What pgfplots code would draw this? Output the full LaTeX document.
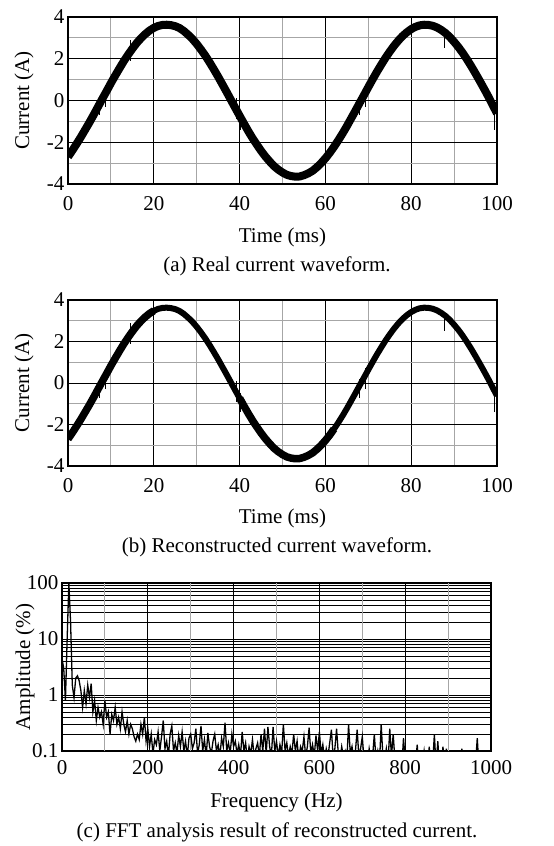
\documentclass[border=0pt]{standalone}
\usepackage{pgfplots}
\pgfplotsset{compat=1.18}
\usepackage{fontspec}
\setmainfont{Liberation Serif}
\newcommand\myf{\fontsize{21}{25}\selectfont}

\pgfplotstableread{
t i
0 -2.70
1 -2.40
2 -2.08
3 -1.75
4 -1.40
5 -1.05
6 -0.68
7 -0.30
8 0.08
9 0.45
10 0.83
11 1.19
12 1.54
13 1.88
14 2.19
15 2.48
16 2.75
17 2.98
18 3.18
19 3.35
20 3.48
21 3.57
22 3.62
23 3.63
24 3.61
25 3.56
26 3.47
27 3.33
28 3.15
29 2.95
30 2.71
31 2.44
32 2.15
33 1.83
34 1.49
35 1.14
36 0.77
37 0.40
38 0.02
39 -0.36
40 -0.73
41 -1.10
42 -1.46
43 -1.80
44 -2.11
45 -2.41
46 -2.68
47 -2.92
48 -3.14
49 -3.31
50 -3.45
51 -3.56
52 -3.62
53 -3.65
54 -3.64
55 -3.58
56 -3.49
57 -3.37
58 -3.20
59 -3.00
60 -2.77
61 -2.51
62 -2.22
63 -1.91
64 -1.58
65 -1.23
66 -0.86
67 -0.49
68 -0.11
69 0.26
70 0.64
71 1.01
72 1.37
73 1.71
74 2.04
75 2.34
76 2.62
77 2.87
78 3.09
79 3.27
80 3.42
81 3.53
82 3.60
83 3.63
84 3.62
85 3.58
86 3.50
87 3.38
88 3.23
89 3.04
90 2.81
91 2.56
92 2.28
93 1.97
94 1.64
95 1.29
96 0.93
97 0.56
98 0.18
99 -0.22
100 -0.62
}\wave

\pgfplotstableread{
t i
7.4 -0.7
7.4 0.2
7.4 nan
8.8 -0.3
8.8 0.6
8.8 nan
14.6 1.9
14.6 2.9
14.6 nan
39.3 -0.9
39.3 0.1
39.3 nan
40.2 -1.4
40.2 -0.5
40.2 nan
68.0 -0.7
68.0 0.2
68.0 nan
69.4 0.7
69.4 -0.3
69.4 nan
87.8 3.3
87.8 2.5
87.8 nan
99.4 -1.4
99.4 -0.3
}\spikes

\pgfplotsset{
  wavebase/.style={
    scale only axis, width=429pt,
    xmin=0, xmax=100, ymin=-4, ymax=4,
    xtick={0,20,40,60,80,100},
    ytick={-4,-2,0,2,4},
    yticklabels={-4,-2,0,2,4},
    minor x tick num=1, minor y tick num=1,
    grid=both,
    major grid style={black, line width=1pt},
    minor grid style={gray!70, line width=1pt},
    major tick length=0pt, minor tick length=0pt,
    axis line style={black, line width=1.2pt},
    tick label style={font=\myf},
    label style={font=\myf},
    xticklabel style={yshift=-9pt},
    /pgf/number format/assume math mode=true,
    unbounded coords=jump,
    xlabel={Time (ms)},
    ylabel={Current (A)},
  },
}

\begin{document}
\begin{tikzpicture}
\path[use as bounding box] (0,0) rectangle (554pt,-846pt);

% (a)
\begin{axis}[wavebase, height=167pt, at={(68pt,-17pt)}, anchor=north west,
  xlabel style={at={(axis description cs:0.5,-0.323)}, anchor=center},
  ylabel style={at={(axis description cs:-0.1026,0.5)}, anchor=center},
]
\addplot[black, line width=8pt, line join=round] table[x=t,y=i] {\wave};
\addplot[black, line width=1pt] table[x=t,y=i] {\spikes};
\end{axis}

% (b)
\begin{axis}[wavebase, height=166pt, at={(68pt,-300pt)}, anchor=north west,
  xlabel style={at={(axis description cs:0.5,-0.313)}, anchor=center},
  ylabel style={at={(axis description cs:-0.1026,0.5)}, anchor=center},
]
\addplot[black, line width=6pt, line join=round] table[x=t,y=i] {\wave};
\addplot[black, line width=7.5pt, line join=round] table[x=t,y=i, restrict x to domain=0:20] {\wave};
\addplot[black, line width=7.5pt, line join=round] table[x=t,y=i, restrict x to domain=40:62] {\wave};
\addplot[black, line width=1pt] table[x=t,y=i] {\spikes};
\end{axis}

% (c)
\begin{axis}[
  scale only axis, width=429pt, height=168pt,
  at={(62pt,-583pt)}, anchor=north west,
  ymode=log,
  xmin=0, xmax=1000, ymin=0.1, ymax=100,
  xtick={0,200,400,600,800,1000},
  xticklabels={0,200,400,600,800,1000},
  ytick={0.1,1,10,100},
  yticklabels={0.1,1,10,100},
  extra x ticks={100,300,500,700,900},
  extra x tick labels={},
  extra x tick style={grid=major, major grid style={gray!70, line width=1pt}},
  grid=both,
  major grid style={black, line width=1pt},
  minor grid style={black, line width=0.6pt},
  major tick length=0pt, minor tick length=0pt,
  axis line style={black, line width=1.2pt},
  tick label style={font=\myf},
  label style={font=\myf},
  xticklabel style={yshift=-6pt},
  /pgf/number format/assume math mode=true,
  xlabel={Frequency (Hz)},
  ylabel={Amplitude (\%)},
  xlabel style={at={(axis description cs:0.5,-0.304)}, anchor=center},
  ylabel style={at={(axis description cs:-0.0862,0.5)}, anchor=center},
]
\addplot[black, line width=1.3pt] coordinates {
(0,4.5)(4,3.0)(8,0.8)(12,10)(16,100)(20,20)(24,1.5)(28,0.9)(32,2.0)(36,2.2)
(40,1.8)(44,1.2)(48,0.6)(52,1.2)(56,0.7)(60,1.5)(64,0.9)(68,1.6)(72,0.5)(76,0.8)
(80,0.35)(84,0.6)(88,0.4)(92,0.5)(96,0.3)(100,0.8)(104,0.4)(108,0.5)(112,0.2)(116,0.45)
(120,0.35)(124,0.6)(128,0.3)(132,0.4)(136,0.25)(140,0.5)(144,0.3)(148,0.22)(152,0.35)(156,0.2)
(160,0.3)(164,0.25)(168,0.18)(172,0.15)(176,0.2)(180,0.16)(184,0.3)(188,0.2)(192,0.4)(196,0.15)
(200,0.25)(204,0.12)(208,0.2)(212,0.09)(216,0.16)(220,0.13)(224,0.22)(228,0.1)(232,0.18)(236,0.35)
(240,0.11)(244,0.15)(248,0.08)(252,0.2)(256,0.28)(260,0.1)(264,0.14)(268,0.09)(272,0.19)(276,0.12)
(280,0.22)(284,0.1)(288,0.15)(292,0.08)(296,0.17)(300,0.2)(304,0.11)(308,0.14)(312,0.25)(316,0.09)
(320,0.13)(324,0.28)(328,0.1)(332,0.16)(336,0.08)(340,0.21)(344,0.12)(348,0.09)(352,0.15)(356,0.2)
(360,0.1)(364,0.13)(368,0.08)(372,0.17)(376,0.12)(380,0.32)(384,0.1)(388,0.14)(392,0.09)(396,0.2)
(400,0.12)(404,0.15)(408,0.09)(412,0.13)(416,0.08)(420,0.22)(424,0.1)(428,0.14)(432,0.07)(436,0.12)
(440,0.09)(444,0.16)(448,0.08)(452,0.11)(456,0.14)(460,0.08)(464,0.2)(468,0.1)(472,0.25)(476,0.09)
(480,0.27)(484,0.12)(488,0.08)(492,0.27)(496,0.1)(500,0.15)(504,0.08)(508,0.13)(512,0.09)(516,0.3)
(520,0.1)(524,0.14)(528,0.08)(532,0.12)(536,0.09)(540,0.2)(544,0.1)(548,0.15)(552,0.07)(556,0.12)
(560,0.1)(564,0.18)(568,0.08)(572,0.12)(576,0.26)(580,0.09)(584,0.13)(588,0.08)(592,0.19)(596,0.1)
(600,0.22)(604,0.09)(608,0.13)(612,0.07)(616,0.11)(620,0.08)(624,0.14)(628,0.24)(632,0.08)(636,0.11)
(640,0.25)(644,0.09)(648,0.07)(652,0.12)(656,0.08)(660,0.1)(664,0.07)(668,0.3)(672,0.09)(676,0.12)
(680,0.07)(684,0.1)(688,0.24)(692,0.08)(696,0.11)(700,0.18)(704,0.07)(708,0.09)(712,0.06)(716,0.11)
(720,0.07)(724,0.08)(728,0.2)(732,0.07)(736,0.1)(740,0.06)(744,0.3)(748,0.08)(752,0.07)(756,0.11)
(760,0.06)(764,0.25)(768,0.08)(772,0.2)(776,0.07)(780,0.09)(784,0.06)(788,0.08)(792,0.05)(796,0.17)
(800,0.07)(804,0.05)(808,0.06)(812,0.05)(816,0.04)(820,0.05)(824,0.06)(828,0.13)(832,0.05)(836,0.04)
(840,0.06)(844,0.1)(848,0.05)(852,0.04)(856,0.12)(860,0.05)(864,0.06)(868,0.2)(872,0.05)(876,0.15)
(880,0.05)(884,0.04)(888,0.12)(892,0.05)(896,0.11)(900,0.04)(904,0.05)(908,0.04)(912,0.06)(916,0.05)
(920,0.04)(924,0.05)(928,0.04)(932,0.11)(936,0.05)(940,0.04)(944,0.06)(948,0.05)(952,0.04)(956,0.05)
(960,0.04)(964,0.06)(968,0.17)(972,0.05)(976,0.04)(980,0.05)(984,0.04)(988,0.05)(992,0.04)(996,0.05)
(1000,0.04)
};
\end{axis}

\node[font=\myf] at (277pt,-266pt) {(a) Real current waveform.};
\node[font=\myf] at (277pt,-547pt) {(b) Reconstructed current waveform.};
\node[font=\myf] at (277pt,-832pt) {(c) FFT analysis result of reconstructed current.};
\end{tikzpicture}
\end{document}
